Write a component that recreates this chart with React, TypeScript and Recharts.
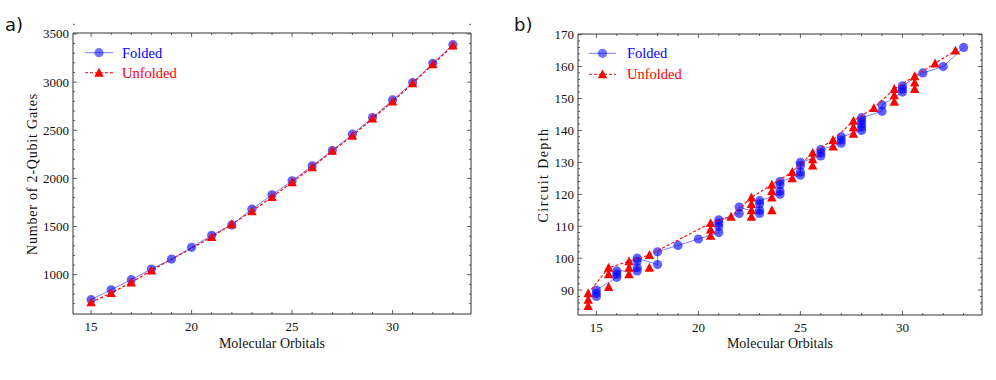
import { ComposedChart, Line, Scatter, XAxis, YAxis } from 'recharts'

// orbitals on the x axis (both panels)
const orbitals = [15, 16, 17, 18, 19, 20, 21, 22, 23, 24, 25, 26, 27, 28, 29, 30, 31, 32, 33]

// panel a) number of 2-qubit gates
const foldedGates = [741, 844, 948, 1059, 1162, 1284, 1410, 1517, 1681, 1830, 1975, 2131, 2290, 2459, 2632, 2815, 2995, 3196, 3389]
const unfoldedGates: (number | null)[] = [713, 810, 920, 1045, null, null, 1391, 1525, 1660, 1806, 1961, 2117, 2286, 2442, 2622, 2798, 2988, 3185, 3379]

// panel b) circuit depth, several runs per orbital count
const foldedDepth: number[][] = [
  [88, 89, 90], [94, 95, 96], [96, 97, 99, 100], [98, 102], [104], [106],
  [108, 110, 111, 112], [114, 116], [114, 115, 117, 118], [120, 121, 123, 124],
  [126, 127, 129, 130], [132, 133, 134], [136, 137, 138], [140, 141, 142, 143, 144],
  [146, 148], [152, 153, 154], [158], [160], [166]
]
const unfoldedDepth: number[][] = [
  [85, 87, 89], [91, 95, 97], [95, 97, 99], [97, 101], [], [],
  [107, 109, 111], [113], [113, 115, 117, 119], [115, 119, 121, 123],
  [125, 127], [129, 131, 133], [135, 137], [139, 141, 143],
  [147], [149, 151, 153], [153, 155, 157], [161], [165]
]
const unfoldedShift = -0.4

const gateTicks = Array.from({ length: 30 }, (_, i) => 700 + i * 100)
const depthTicks = Array.from({ length: 44 }, (_, i) => 84 + i * 2)

const BLUE = '#0000ff'
const RED = '#ff0000'
const AXIS = '#333'
const SERIF = "'Liberation Serif', 'DejaVu Serif', serif"

const gateRows = orbitals.map((n, i) => ({ n, folded: foldedGates[i], unfolded: unfoldedGates[i] }))
const foldedPts = orbitals.flatMap((n, i) => foldedDepth[i].map(d => ({ x: n, y: d })))
const unfoldedPts = orbitals.flatMap((n, i) => unfoldedDepth[i].map(d => ({ x: n + unfoldedShift, y: d })))
const unfoldedPath = orbitals
  .map((n, i) => ({ x: n + unfoldedShift, y: unfoldedDepth[i].length ? Math.max(...unfoldedDepth[i]) : null }))
  .filter(p => p.y !== null)

type Side = 'bottom' | 'top' | 'left' | 'right'

// inward ticks on all four sides, labels only on the bottom/left majors
const tick = (side: Side, major: (v: number) => boolean, label: boolean) => (props: any) => {
  const { x, y, payload } = props
  const v = payload.value
  const big = major(v)
  const len = big ? 4 : 2
  let l = { x1: x, y1: y, x2: x, y2: y }
  if (side === 'bottom') l = { x1: x, y1: y, x2: x, y2: y - len }
  if (side === 'top') l = { x1: x, y1: y, x2: x, y2: y + len }
  if (side === 'left') l = { x1: x, y1: y, x2: x + len, y2: y }
  if (side === 'right') l = { x1: x, y1: y, x2: x - len, y2: y }
  return (
    <g>
      <line {...l} stroke={AXIS} strokeWidth={0.8} />
      {label && big && side === 'bottom' && (
        <text x={x} y={y + 17} textAnchor="middle" fontSize={13} fontFamily={SERIF} fill="#111">{v}</text>
      )}
      {label && big && side === 'left' && (
        <text x={x - 4} y={y + 4.5} textAnchor="end" fontSize={13} fontFamily={SERIF} fill="#111">{v}</text>
      )}
    </g>
  )
}

const circle = (p: any) =>
  p.cx == null || p.cy == null ? <g key={p.key} /> : (
    <circle key={p.key} cx={p.cx} cy={p.cy} r={4.6} fill={BLUE} fillOpacity={0.62} />
  )

const triangle = (p: any) =>
  p.cx == null || p.cy == null ? <g key={p.key} /> : (
    <polygon
      key={p.key}
      points={`${p.cx - 4.7},${p.cy + 4} ${p.cx + 4.7},${p.cy + 4} ${p.cx},${p.cy - 4.9}`}
      fill={RED}
    />
  )

const xMajor = (v: number) => v % 5 === 0
const axisCommon = { allowDataOverflow: true, interval: 0 as const, tickSize: 0, tickMargin: 0, axisLine: { stroke: AXIS }, tickLine: false }

function GatesChart() {
  return (
    <ComposedChart width={480} height={380} data={gateRows} margin={{ top: 32, right: 8, bottom: 65, left: 72 }}>
      <XAxis {...axisCommon} dataKey="n" type="number" domain={[14.1, 33.9]} ticks={orbitals} height={1} tick={tick('bottom', xMajor, true)} />
      <XAxis {...axisCommon} xAxisId="t" orientation="top" dataKey="n" type="number" domain={[14.1, 33.9]} ticks={orbitals} height={1} tick={tick('top', xMajor, false)} />
      <YAxis {...axisCommon} type="number" domain={[592, 3510]} ticks={gateTicks} width={1} tick={tick('left', v => v % 500 === 0, true)} />
      <YAxis {...axisCommon} yAxisId="r" orientation="right" type="number" domain={[592, 3510]} ticks={gateTicks} width={1} tick={tick('right', v => v % 500 === 0, false)} />
      <Line dataKey="folded" type="linear" stroke={BLUE} strokeOpacity={0.5} strokeWidth={1} dot={circle} activeDot={false} isAnimationActive={false} />
      <Line dataKey="unfolded" type="linear" connectNulls stroke={RED} strokeWidth={1.2} strokeDasharray="3 2" dot={triangle} activeDot={false} isAnimationActive={false} />
    </ComposedChart>
  )
}

function DepthChart() {
  return (
    <ComposedChart width={496} height={380} margin={{ top: 33, right: 13, bottom: 64, left: 77 }}>
      <XAxis {...axisCommon} dataKey="x" type="number" domain={[14.1, 33.9]} ticks={orbitals} height={1} tick={tick('bottom', xMajor, true)} />
      <XAxis {...axisCommon} xAxisId="t" orientation="top" dataKey="x" type="number" domain={[14.1, 33.9]} ticks={orbitals} height={1} tick={tick('top', xMajor, false)} />
      <YAxis {...axisCommon} dataKey="y" type="number" domain={[82.2, 170.2]} ticks={depthTicks} width={1} tick={tick('left', v => v % 10 === 0, true)} />
      <YAxis {...axisCommon} yAxisId="r" orientation="right" dataKey="y" type="number" domain={[82.2, 170.2]} ticks={depthTicks} width={1} tick={tick('right', v => v % 10 === 0, false)} />
      <Scatter data={foldedPts} shape={circle} line={{ stroke: BLUE, strokeOpacity: 0.5, strokeWidth: 1 }} lineJointType="linear" isAnimationActive={false} />
      <Scatter data={unfoldedPath} shape={() => <g />} line={{ stroke: RED, strokeWidth: 1.1, strokeDasharray: '3 2' }} lineJointType="linear" isAnimationActive={false} />
      <Scatter data={unfoldedPts} shape={triangle} isAnimationActive={false} />
    </ComposedChart>
  )
}

function Overlay() {
  const legend = (x0: number, x1: number, y1: number, y2: number, tx: number) => {
    const mid = (x0 + x1) / 2
    return (
      <g fontFamily={SERIF} fontSize={14.5}>
        <line x1={x0} x2={x1} y1={y1} y2={y1} stroke={BLUE} strokeOpacity={0.5} />
        <circle cx={mid} cy={y1} r={4.6} fill={BLUE} fillOpacity={0.55} />
        <text x={tx} y={y1 + 5} fill={BLUE}>Folded</text>
        <line x1={x0} x2={x1} y1={y2} y2={y2} stroke={RED} strokeWidth={1.1} strokeDasharray="3 2" />
        <polygon points={`${mid - 4.7},${y2 + 4} ${mid + 4.7},${y2 + 4} ${mid},${y2 - 4.9}`} fill={RED} />
        <text x={tx} y={y2 + 5} fill={RED}>Unfolded</text>
      </g>
    )
  }
  return (
    <svg width={996} height={380} style={{ position: 'absolute', left: 0, top: 0, pointerEvents: 'none' }}>
      <text x={5} y={31} fontFamily="'DejaVu Sans', sans-serif" fontSize={18} fill="#111">a)</text>
      <text x={514} y={31} fontFamily="'DejaVu Sans', sans-serif" fontSize={18} fill="#111">b)</text>
      {legend(85, 113, 52.7, 72.7, 122)}
      {legend(589, 616, 53.3, 74.3, 627)}
      <g fontFamily={SERIF} fontSize={14} fill="#111">
        <text x={272} y={348} textAnchor="middle">Molecular Orbitals</text>
        <text x={780} y={348} textAnchor="middle">Molecular Orbitals</text>
        <text transform="translate(37,174) rotate(-90)" textAnchor="middle" letterSpacing={0.8}>Number of 2-Qubit Gates</text>
        <text transform="translate(548,175) rotate(-90)" textAnchor="middle" letterSpacing={1.4}>Circuit Depth</text>
      </g>
    </svg>
  )
}

export default function App() {
  return (
    <div style={{ position: 'absolute', left: 0, top: 0, width: 996, height: 380, background: '#fff' }}>
      <div style={{ position: 'absolute', left: 0, top: 0 }}>
        <GatesChart />
      </div>
      <div style={{ position: 'absolute', left: 500, top: 0 }}>
        <DepthChart />
      </div>
      <Overlay />
    </div>
  )
}
